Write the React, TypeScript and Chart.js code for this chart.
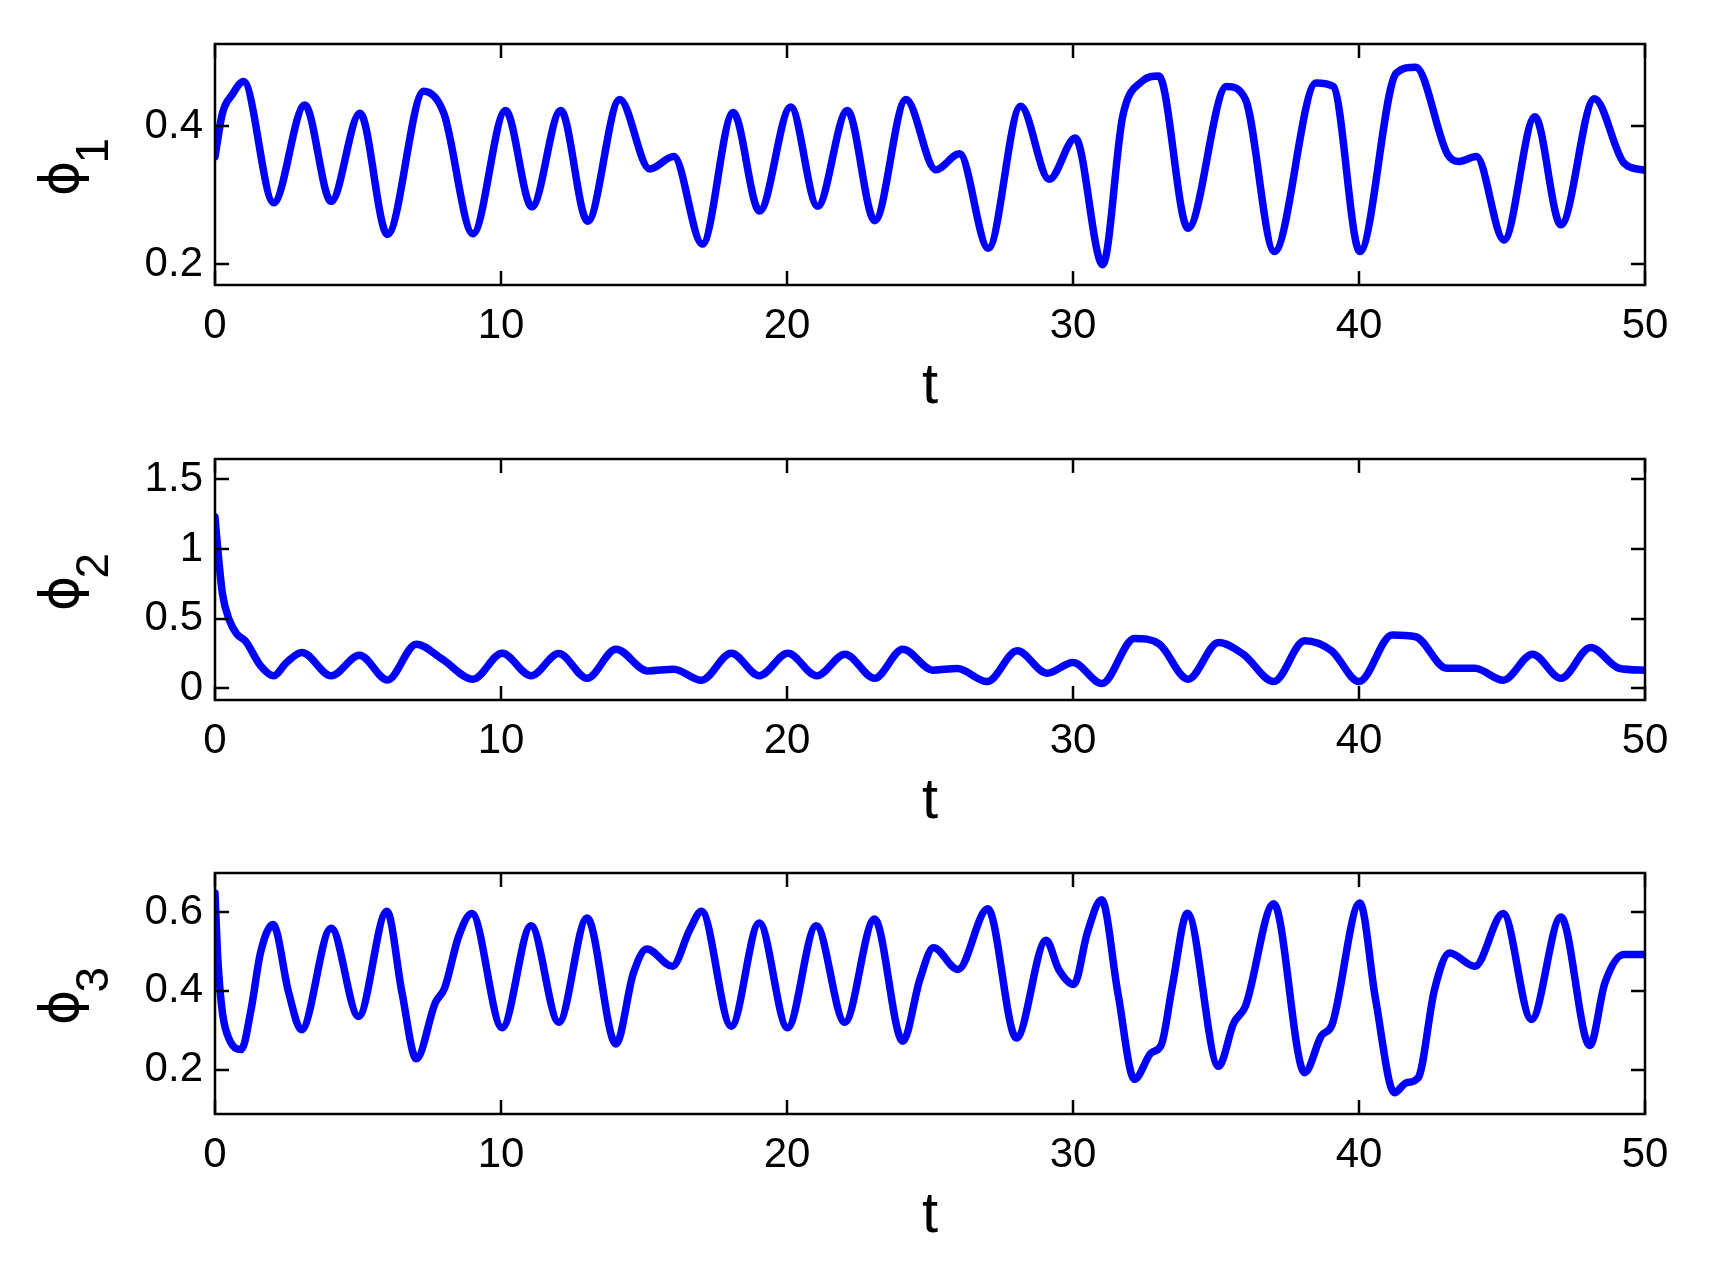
import React, { useEffect, useRef } from 'react';
import { Chart, registerables } from 'chart.js';

Chart.register(...registerables);

// ---------- data ----------
const T1 = [0, 0.26, 0.6, 1.0, 2.05, 3.14, 4.06, 5.07, 6.03, 7.3, 8.0, 9.02, 10.16, 11.08, 12.09, 13.03, 14.15, 15.2, 16.04, 17.04, 18.12, 19.04, 20.13, 21.07, 22.11, 23.07, 24.16, 25.2, 26.03, 27.04, 28.17, 29.17, 30.08, 31.04, 31.74, 32.4, 33.0, 34.02, 35.37, 36.03, 37.04, 38.5, 39.1, 40.03, 41.3, 41.98, 43.1, 43.5, 44.1, 45.07, 46.15, 47.06, 48.23, 49.26, 50];
const PHI1 = [0.356, 0.419, 0.446, 0.465, 0.289, 0.431, 0.291, 0.419, 0.243, 0.451, 0.419, 0.244, 0.423, 0.283, 0.423, 0.262, 0.439, 0.338, 0.356, 0.229, 0.42, 0.277, 0.428, 0.284, 0.423, 0.263, 0.439, 0.337, 0.36, 0.223, 0.429, 0.323, 0.383, 0.199, 0.415, 0.465, 0.473, 0.252, 0.458, 0.439, 0.218, 0.463, 0.458, 0.218, 0.477, 0.486, 0.359, 0.349, 0.356, 0.235, 0.414, 0.257, 0.44, 0.347, 0.336];

const T2 = [0, 0.1, 0.26, 0.5, 0.76, 1.06, 1.6, 2.05, 2.5, 3.04, 4.06, 5.05, 6.03, 7.04, 7.94, 9.02, 10.04, 11.05, 12.02, 13.01, 14.02, 15.13, 16.04, 17.01, 18.05, 19.03, 20.03, 21.04, 22.03, 23.06, 24.05, 25.1, 25.95, 27.0, 28.05, 29.09, 30.0, 31.01, 32.15, 33.02, 34.02, 35.09, 35.95, 37.02, 38.1, 39.04, 40.0, 41.16, 41.98, 43.06, 44.05, 45.04, 46.07, 47.06, 48.1, 49.09, 50];
const PHI2 = [1.23, 0.99, 0.68, 0.49, 0.39, 0.34, 0.16, 0.09, 0.185, 0.257, 0.09, 0.238, 0.06, 0.317, 0.21, 0.065, 0.252, 0.09, 0.25, 0.072, 0.281, 0.125, 0.137, 0.058, 0.252, 0.09, 0.252, 0.09, 0.245, 0.072, 0.281, 0.13, 0.142, 0.048, 0.269, 0.108, 0.185, 0.034, 0.358, 0.317, 0.065, 0.329, 0.245, 0.048, 0.341, 0.269, 0.048, 0.382, 0.37, 0.144, 0.144, 0.058, 0.245, 0.072, 0.293, 0.144, 0.13];

const T3 = [0, 0.1, 0.26, 0.5, 0.92, 1.26, 1.59, 2.03, 2.58, 3.02, 4.06, 5.02, 6.01, 6.54, 7.04, 7.7, 8.03, 8.52, 8.98, 10.04, 11.05, 12.02, 13.01, 14.02, 14.63, 15.1, 15.99, 16.6, 17.01, 18.05, 19.03, 20.02, 21.02, 22.02, 23.06, 24.05, 24.65, 25.12, 25.98, 27.02, 28.02, 29.06, 29.5, 30.03, 30.5, 31.0, 31.57, 32.15, 32.73, 33.09, 33.47, 34.0, 35.09, 35.62, 36.03, 37.02, 38.1, 38.68, 39.06, 40.03, 40.58, 41.24, 41.65, 42.07, 42.64, 43.17, 44.05, 45.04, 46.03, 47.06, 48.07, 48.6, 49.26, 50];
const PHI3 = [0.648, 0.479, 0.344, 0.276, 0.251, 0.352, 0.496, 0.568, 0.394, 0.301, 0.559, 0.335, 0.602, 0.394, 0.227, 0.369, 0.407, 0.538, 0.596, 0.306, 0.565, 0.32, 0.585, 0.265, 0.445, 0.506, 0.462, 0.555, 0.602, 0.31, 0.572, 0.306, 0.565, 0.32, 0.582, 0.272, 0.43, 0.509, 0.454, 0.608, 0.28, 0.528, 0.454, 0.416, 0.547, 0.631, 0.394, 0.175, 0.242, 0.263, 0.411, 0.597, 0.208, 0.318, 0.361, 0.621, 0.192, 0.285, 0.314, 0.623, 0.378, 0.141, 0.166, 0.179, 0.403, 0.496, 0.462, 0.596, 0.327, 0.587, 0.261, 0.42, 0.492, 0.492];

const X_TICKS = [0, 10, 20, 30, 40, 50];
const X_TICK_LABELS = ['0', '10', '20', '30', '40', '50'];
const X_TITLE = 't';

const Y1_TICKS = [0.2, 0.4];
const Y1_TICK_LABELS = ['0.2', '0.4'];
const Y2_TICKS = [0, 0.5, 1, 1.5];
const Y2_TICK_LABELS = ['0', '0.5', '1', '1.5'];
const Y3_TICKS = [0.2, 0.4, 0.6];
const Y3_TICK_LABELS = ['0.2', '0.4', '0.6'];

const Y_LABEL_BASE = 'ϕ';
const Y_LABEL_SUBS = ['1', '2', '3'];

const Y1_RANGE = [0.1695, 0.5196];
const Y2_RANGE = [-0.084, 1.646];
const Y3_RANGE = [0.087, 0.699];

// ---------- styling ----------
const FONT = '"Liberation Sans", Arial, Helvetica, sans-serif';
const PHI_FONT = '"DejaVu Sans", sans-serif';
const LINE_COLOR = '#0000ff';
const CANVAS_W = 1722;
const CANVAS_H = 415;
const PANEL_TOPS = [0, 415, 829];

const boxPlugin = {
  id: 'matlabBox',
  afterDatasetsDraw(chart: any) {
    const { ctx, chartArea } = chart;
    const { left, right, top, bottom } = chartArea;
    const xs = chart.scales.x;
    const ys = chart.scales.y;
    const TL = 14;
    ctx.save();
    ctx.strokeStyle = '#000';
    ctx.lineWidth = 2.5;
    ctx.lineCap = 'butt';
    ctx.beginPath();
    for (const tk of xs.ticks) {
      const px = Math.round(xs.getPixelForValue(tk.value));
      ctx.moveTo(px, bottom);
      ctx.lineTo(px, bottom - TL);
      ctx.moveTo(px, top);
      ctx.lineTo(px, top + TL);
    }
    for (const tk of ys.ticks) {
      const py = Math.round(ys.getPixelForValue(tk.value));
      ctx.moveTo(left, py);
      ctx.lineTo(left + TL, py);
      ctx.moveTo(right, py);
      ctx.lineTo(right - TL, py);
    }
    ctx.stroke();
    ctx.lineJoin = 'miter';
    ctx.strokeRect(left, top, right - left, bottom - top);
    ctx.restore();
  },
};

const yLabelPlugin = {
  id: 'yLabel',
  afterDraw(chart: any) {
    const opts = chart.options.plugins.yLabel;
    if (!opts) return;
    const { ctx, chartArea } = chart;
    const c = (chartArea.top + chartArea.bottom) / 2;
    ctx.save();
    ctx.fillStyle = '#000';
    ctx.rotate(-Math.PI / 2);
    ctx.font = `54px ${PHI_FONT}`;
    ctx.textAlign = 'center';
    ctx.textBaseline = 'middle';
    ctx.fillText(opts.base, -(c + 14), 64);
    ctx.font = `46px ${FONT}`;
    ctx.textAlign = 'left';
    ctx.fillText(opts.sub, -(c - 1), 95);
    ctx.restore();
  },
};

type PanelProps = {
  t: number[];
  v: number[];
  range: number[];
  yTicks: number[];
  yTickLabels: string[];
  sub: string;
  top: number;
};

function Panel({ t, v, range, yTicks, yTickLabels, sub, top }: PanelProps) {
  const ref = useRef<HTMLCanvasElement | null>(null);
  useEffect(() => {
    if (!ref.current) return;
    const data = t.map((x, i) => ({ x, y: v[i] }));
    const chart = new Chart(ref.current, {
      type: 'line',
      data: {
        datasets: [
          {
            data,
            borderColor: LINE_COLOR,
            borderWidth: 7.5,
            pointRadius: 0,
            fill: false,
            cubicInterpolationMode: 'monotone',
            borderJoinStyle: 'round',
            borderCapStyle: 'round',
            clip: 0,
          } as any,
        ],
      },
      options: {
        responsive: false,
        animation: false,
        events: [],
        layout: { padding: { left: 0, right: 77, top: 44, bottom: 0 } },
        plugins: {
          legend: { display: false },
          tooltip: { enabled: false },
          yLabel: { base: Y_LABEL_BASE, sub },
        } as any,
        scales: {
          x: {
            type: 'linear',
            min: 0,
            max: 50,
            afterBuildTicks: (s: any) => {
              s.ticks = X_TICKS.map((value) => ({ value }));
            },
            afterFit: (s: any) => {
              s.height = 130;
            },
            grid: { display: false, drawTicks: false },
            border: { display: false },
            ticks: {
              color: '#000',
              font: { size: 42, family: FONT },
              padding: 16,
              maxRotation: 0,
              autoSkip: false,
              callback: (val: any) => {
                const i = X_TICKS.indexOf(Number(val));
                return i >= 0 ? X_TICK_LABELS[i] : '';
              },
            },
            title: {
              display: true,
              text: X_TITLE,
              color: '#000',
              font: { size: 58, family: FONT, lineHeight: 0.9 },
              padding: { top: 0, bottom: 2 },
            },
          },
          y: {
            type: 'linear',
            min: range[0],
            max: range[1],
            afterBuildTicks: (s: any) => {
              s.ticks = yTicks.map((value) => ({ value }));
            },
            afterFit: (s: any) => {
              s.width = 215;
            },
            grid: { display: false, drawTicks: false },
            border: { display: false },
            ticks: {
              color: '#000',
              font: { size: 42, family: FONT },
              padding: 12,
              autoSkip: false,
              callback: (val: any) => {
                const i = yTicks.indexOf(Number(val));
                return i >= 0 ? yTickLabels[i] : '';
              },
            },
          },
        },
      } as any,
      plugins: [boxPlugin, yLabelPlugin],
    });
    return () => chart.destroy();
  }, [t, v, range, yTicks, yTickLabels, sub]);
  return (
    <canvas
      ref={ref}
      width={CANVAS_W}
      height={CANVAS_H}
      style={{ position: 'absolute', left: 0, top, width: CANVAS_W, height: CANVAS_H, display: 'block' }}
    />
  );
}

export default function App() {
  return (
    <div
      style={{
        position: 'absolute',
        left: 0,
        top: 0,
        width: 1722,
        height: 1275,
        background: '#fff',
        overflow: 'hidden',
      }}
    >
      <Panel t={T1} v={PHI1} range={Y1_RANGE} yTicks={Y1_TICKS} yTickLabels={Y1_TICK_LABELS} sub={Y_LABEL_SUBS[0]} top={PANEL_TOPS[0]} />
      <Panel t={T2} v={PHI2} range={Y2_RANGE} yTicks={Y2_TICKS} yTickLabels={Y2_TICK_LABELS} sub={Y_LABEL_SUBS[1]} top={PANEL_TOPS[1]} />
      <Panel t={T3} v={PHI3} range={Y3_RANGE} yTicks={Y3_TICKS} yTickLabels={Y3_TICK_LABELS} sub={Y_LABEL_SUBS[2]} top={PANEL_TOPS[2]} />
    </div>
  );
}
